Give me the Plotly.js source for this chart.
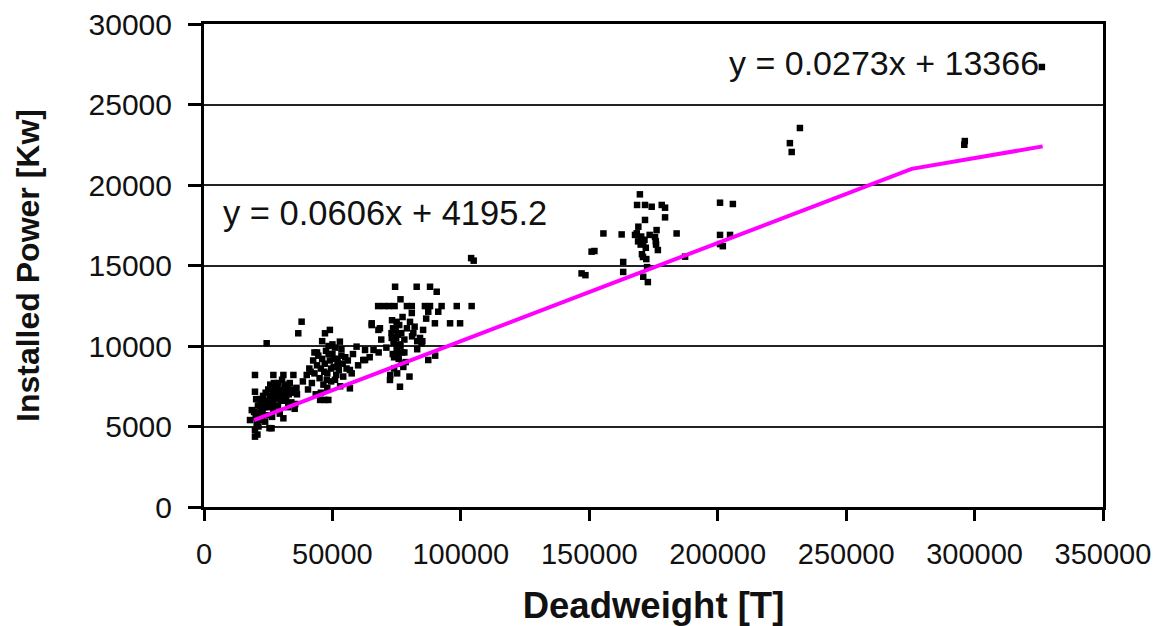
<!DOCTYPE html>
<html>
<head>
<meta charset="utf-8">
<script src="https://cdn.plot.ly/plotly-3.0.1.min.js"></script>
<style>
  html, body { margin: 0; padding: 0; background: #fff; }
  #chart { width: 1157px; height: 626px; }
</style>
</head>
<body>
<div id="chart"></div>
<script>
// Ships 18k-38k DWT
const groupA = [[17900,5400],[18600,6020],[19500,5900],[19850,4370],[19850,4780],[20100,5600],[20500,5200],[21000,6300],[21200,5000],[21800,5800],[22300,6400],[22800,5900],[23000,6900],[23500,6200],[24000,7100],[24400,6600],[24500,5700],[25000,7300],[25200,6400],[25800,7600],[26000,6900],[26300,4890],[26800,7200],[27000,6100],[27200,7700],[27500,6700],[28000,7000],[28300,7400],[28800,6300],[29000,7700],[29300,6900],[29800,7300],[30000,6600],[30400,7900],[30900,5510],[31200,7200],[31500,7600],[32000,6900],[32500,7400],[33000,7000],[33400,7700],[34000,6500],[34800,7300],[35300,6100],[36000,7400],[36200,7000],[19850,8200],[27000,8200],[30900,8200],[34800,8200],[19850,7160],[21500,6700],[23800,5300],[26500,5600],[29500,5800],[32800,6200],[35500,6400],[25500,4900],[20800,4500],[24400,10170],[36700,10790],[38000,11510],[22000,6000],[23000,6600],[24800,6200],[25600,6700],[26800,6400],[27800,7300],[28600,6800],[30500,7000],[31800,6600],[33800,7100],[22500,5400],[20300,6700]];
// Ships 38k-68k DWT
const groupB = [[38500,7800],[40000,8200],[40500,7300],[41000,8600],[42000,7700],[42500,9100],[43000,8300],[43500,7000],[44000,8800],[44500,9400],[45000,8000],[45200,6650],[45500,8600],[46000,9200],[46500,7600],[47000,8900],[47100,6650],[47500,9700],[48000,8300],[48400,6650],[48500,10000],[49000,9100],[49500,7800],[50000,9500],[50500,8700],[51000,9900],[51500,8200],[52000,9200],[52500,8500],[52900,10270],[53000,7500],[53500,9800],[54000,8900],[54200,8100],[55000,9300],[55500,8600],[56000,9100],[56800,8510],[56800,7370],[57500,8300],[58000,9500],[59400,9960],[60000,8800],[62000,9130],[62700,9750],[62700,9130],[65300,11300],[67900,11000],[49000,11000],[47100,10790],[44000,9600],[46000,10300],[50000,10100],[52000,8900],[48000,7400],[43000,9600],[41500,8400],[53500,9400],[45500,7100],[51000,7900],[46800,8400],[49500,8600],[50800,9200],[48500,9500],[47800,7900]];
// Ships 64k-105k DWT
const groupC = [[64500,9300],[65300,11410],[66000,9750],[67800,12480],[68000,9600],[68500,11100],[69000,10400],[70000,12480],[71000,9900],[72000,12480],[72400,7890],[72500,8200],[73000,10800],[73100,10500],[73200,11600],[73500,9500],[73800,10200],[74000,8600],[74000,9300],[74200,12480],[74400,13680],[74600,11000],[75000,9800],[75000,11500],[75200,8300],[75500,10700],[75800,9200],[76000,11300],[76000,10100],[76300,7470],[76500,10000],[76500,12900],[77000,9600],[77000,8900],[77300,11800],[77600,8700],[78000,10400],[78000,9600],[78500,9000],[79000,12480],[79000,11100],[80000,8100],[80200,11500],[80900,12480],[80900,12050],[81000,10600],[81500,10800],[82000,11200],[82800,13680],[83000,10300],[83000,9800],[84100,10500],[84700,10170],[85000,10300],[85300,11000],[86000,12480],[86500,11700],[87300,12130],[87300,9130],[88000,13680],[88000,12480],[89900,11410],[90000,9400],[90600,13370],[91200,12130],[92500,12480],[95800,11410],[98400,12480],[99700,11410],[104200,12480],[104000,15460],[105000,15300],[74800,10500],[75400,9500],[76800,10800],[73600,11100]];
// Ships 147k-188k DWT
const groupD = [[147000,14510],[148500,14400],[150900,15860],[152000,15900],[155500,16990],[162600,16930],[163200,15220],[163200,14600],[167800,16900],[168600,18760],[169100,17410],[169700,19420],[170000,16300],[170500,15700],[170900,15530],[171000,14300],[171700,18760],[171700,17830],[171500,16600],[172000,16100],[172500,14900],[172800,13970],[174300,18650],[175600,16770],[176000,16300],[176200,17200],[176700,15960],[178200,18760],[179500,18590],[179500,17990],[184000,16990],[187300,15550],[169000,16500],[173500,16900],[168500,17000],[170200,16800],[171000,16400],[172200,15400],[175900,16500]];
// Ships above 200k DWT
const groupE = [[200900,18900],[205900,18820],[200900,16900],[200900,16330],[204800,16900],[202000,16200],[228100,22600],[228800,22050],[232000,23540],[296200,22730],[296000,22500],[326200,27330]];

// Fitted trend (magenta)
const trendDwt = [19500, 275500, 326500];
const trendPower = [5400, 21000, 22400];

const eqLow = 'y = 0.0606x + 4195.2';
const eqHigh = 'y = 0.0273x + 13366';

const allPts = groupA.concat(groupB, groupC, groupD, groupE);
const dwt = allPts.map(p => p[0]);
const power = allPts.map(p => p[1]);

const FONT = 'Liberation Sans, Arial, sans-serif';

const traces = [
  {
    x: dwt, y: power, type: 'scatter', mode: 'markers',
    marker: { symbol: 'square', size: 6.5, color: '#000' },
    showlegend: false, hoverinfo: 'x+y'
  },
  {
    x: trendDwt, y: trendPower, type: 'scatter', mode: 'lines',
    line: { color: '#FF00FF', width: 4 },
    showlegend: false
  }
];

const layout = {
  width: 1157, height: 626,
  margin: { l: 204, r: 54, t: 24, b: 119, pad: 0 },
  paper_bgcolor: '#fff', plot_bgcolor: '#fff',
  font: { family: FONT, color: '#111' },
  showlegend: false,
  xaxis: {
    range: [0, 350000], dtick: 50000, tick0: 0, tickformat: 'd',
    showgrid: false, zeroline: false,
    showline: true, linecolor: '#000', linewidth: 3, mirror: true,
    ticks: 'outside', ticklen: 11, tickwidth: 3, tickcolor: '#000',
    ticklabelstandoff: 8,
    tickfont: { family: FONT, size: 29, color: '#111' },
    title: { text: '<b>Deadweight [T]</b>', font: { family: FONT, size: 36.5, color: '#111' }, standoff: 47 }
  },
  yaxis: {
    range: [0, 30000], dtick: 5000, tick0: 0, tickformat: 'd',
    showgrid: true, gridcolor: '#222', gridwidth: 2, zeroline: false,
    showline: true, linecolor: '#000', linewidth: 3, mirror: true,
    ticks: 'outside', ticklen: 13, tickwidth: 3, tickcolor: '#000',
    ticklabelstandoff: 10,
    tickfont: { family: FONT, size: 30, color: '#111' },
    title: { text: '<b>Installed Power [Kw]</b>', font: { family: FONT, size: 32, color: '#111' }, standoff: 40 }
  },
  annotations: [
    { x: 203600, y: 27600, xref: 'x', yref: 'y', text: eqHigh, showarrow: false,
      xanchor: 'left', yanchor: 'middle', font: { family: FONT, size: 34, color: '#111' } },
    { x: 6600, y: 18250, xref: 'x', yref: 'y', text: eqLow, showarrow: false,
      xanchor: 'left', yanchor: 'middle', font: { family: FONT, size: 34.5, color: '#111' } }
  ]
};

Plotly.newPlot('chart', traces, layout, { staticPlot: true, displayModeBar: false });
</script>
</body>
</html>
